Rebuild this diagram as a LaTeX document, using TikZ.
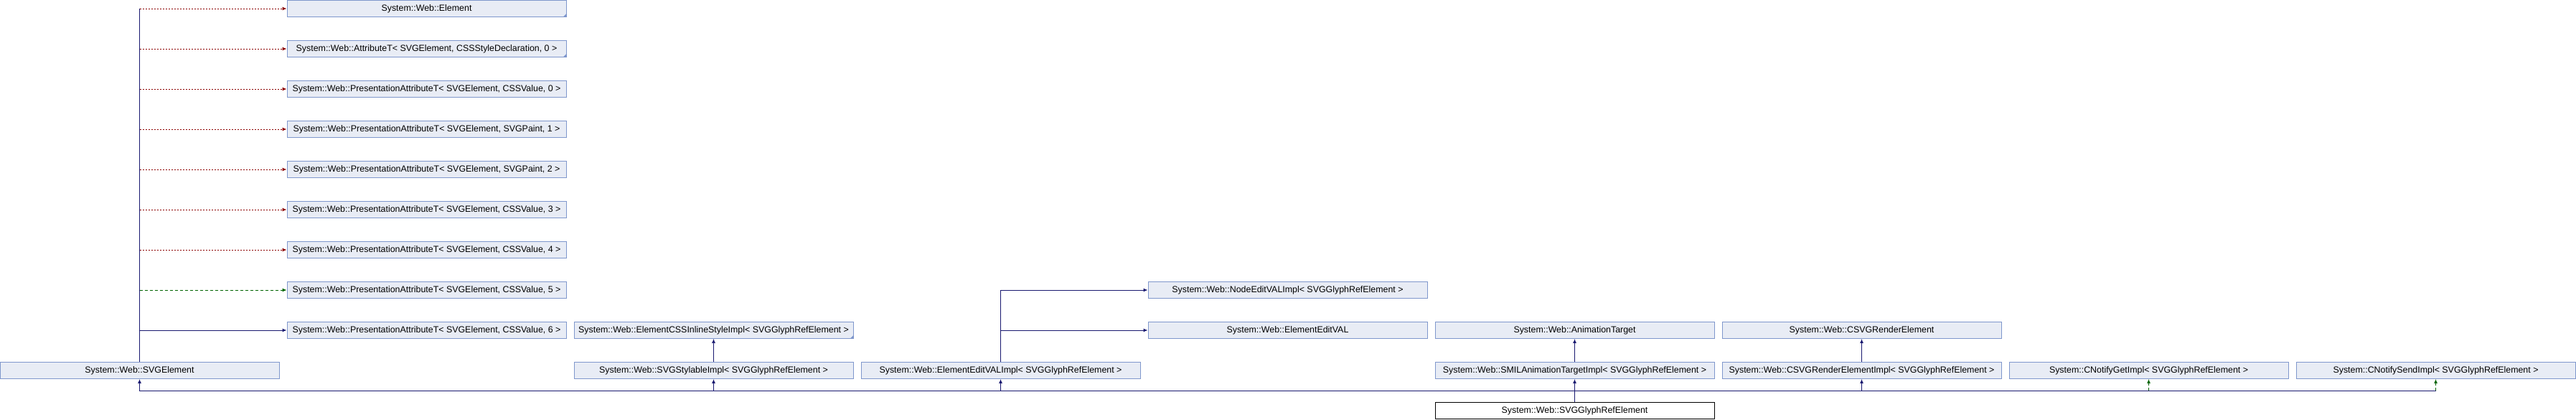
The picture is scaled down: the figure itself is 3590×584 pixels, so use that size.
\documentclass[tikz,border=0pt]{standalone}
\usepackage{fontspec}
\setmainfont{Liberation Sans}
\usetikzlibrary{arrows.meta}
\definecolor{boxfill}{HTML}{E8ECF5}
\definecolor{boxline}{HTML}{7F97CC}
\definecolor{pubcol}{HTML}{191970}
\definecolor{privcol}{HTML}{8B0000}
\definecolor{protcol}{HTML}{006400}
\begin{document}
\begin{tikzpicture}
  [
    x=1pt, y=-1pt,
    cls/.style={draw=boxline, fill=boxfill, line width=0.9pt,
      minimum width=389pt, minimum height=23pt, inner sep=0pt,
      font=\fontsize{12.4}{14}\selectfont},
    self/.style={cls, draw=black, fill=white},
    >={Latex[length=6pt,width=5pt]},
    pub/.style={pubcol, line width=1pt},
    priv/.style={privcol, line width=1pt, dash pattern=on 2pt off 2pt},
    prot/.style={protcol, line width=1pt, dash pattern=on 4pt off 3pt},
  ]
\useasboundingbox (0,0) rectangle (3590,584);

\def\dx{400}
\def\dy{56}
\def\xa{194.5}
\newcommand\trunc[1]{
  \fill[boxline] (#1.south east) -- ++(-5,0) -- ++(5,-5) -- cycle;
}

% base column
\node[cls] (svgel) at (\xa,12+9*\dy) {System::Web::SVGElement};
\node[cls] (element) at (\xa+\dx,12) {System::Web::Element};
\node[cls] (attr) at (\xa+\dx,12+\dy) {System::Web::AttributeT< SVGElement, CSSStyleDeclaration, 0 >};
\node[cls] (pa0) at (\xa+\dx,12+2*\dy) {System::Web::PresentationAttributeT< SVGElement, CSSValue, 0 >};
\node[cls] (pa1) at (\xa+\dx,12+3*\dy) {System::Web::PresentationAttributeT< SVGElement, SVGPaint, 1 >};
\node[cls] (pa2) at (\xa+\dx,12+4*\dy) {System::Web::PresentationAttributeT< SVGElement, SVGPaint, 2 >};
\node[cls] (pa3) at (\xa+\dx,12+5*\dy) {System::Web::PresentationAttributeT< SVGElement, CSSValue, 3 >};
\node[cls] (pa4) at (\xa+\dx,12+6*\dy) {System::Web::PresentationAttributeT< SVGElement, CSSValue, 4 >};
\node[cls] (pa5) at (\xa+\dx,12+7*\dy) {System::Web::PresentationAttributeT< SVGElement, CSSValue, 5 >};
\node[cls] (pa6) at (\xa+\dx,12+8*\dy) {System::Web::PresentationAttributeT< SVGElement, CSSValue, 6 >};
\trunc{element}
\trunc{attr}

% template impls
\node[cls] (inline) at (\xa+2*\dx,12+8*\dy) {System::Web::ElementCSSInlineStyleImpl< SVGGlyphRefElement >};
\node[cls] (stylable) at (\xa+2*\dx,12+9*\dy) {System::Web::SVGStylableImpl< SVGGlyphRefElement >};
\trunc{inline}
\node[cls] (editimpl) at (\xa+3*\dx,12+9*\dy) {System::Web::ElementEditVALImpl< SVGGlyphRefElement >};
\node[cls] (nodeedit) at (\xa+4*\dx,12+7*\dy) {System::Web::NodeEditVALImpl< SVGGlyphRefElement >};
\node[cls] (elemedit) at (\xa+4*\dx,12+8*\dy) {System::Web::ElementEditVAL};
\node[cls] (anim) at (\xa+5*\dx,12+8*\dy) {System::Web::AnimationTarget};
\node[cls] (smil) at (\xa+5*\dx,12+9*\dy) {System::Web::SMILAnimationTargetImpl< SVGGlyphRefElement >};
\node[cls] (render) at (\xa+6*\dx,12+8*\dy) {System::Web::CSVGRenderElement};
\node[cls] (renderimpl) at (\xa+6*\dx,12+9*\dy) {System::Web::CSVGRenderElementImpl< SVGGlyphRefElement >};
\node[cls] (getimpl) at (\xa+7*\dx,12+9*\dy) {System::CNotifyGetImpl< SVGGlyphRefElement >};
\node[cls] (sendimpl) at (\xa+8*\dx,12+9*\dy) {System::CNotifySendImpl< SVGGlyphRefElement >};
\node[self] (glyph) at (\xa+5*\dx,12+10*\dy) {System::Web::SVGGlyphRefElement};

% SVGElement bases
\draw[pub] (svgel.north) -- (svgel.north |- element.west);
\foreach \n/\s in {element/priv, attr/priv, pa0/priv, pa1/priv, pa2/priv,
                   pa3/priv, pa4/priv, pa5/prot, pa6/pub}
  \draw[\s,->] (svgel.north |- \n.west) -- (\n.west);

\draw[pub,->,line width=0.7pt] (stylable.north) -- (inline.south);
\draw[pub,->] (editimpl.north) |- (nodeedit.west);
\draw[pub,->] (editimpl.north) |- (elemedit.west);
\draw[pub,->] (smil.north) -- (anim.south);
\draw[pub,->] (renderimpl.north) -- (render.south);

% SVGGlyphRefElement bases
\path (glyph.north) ++(0,-16) coordinate (bus);
\draw[pub] (glyph.north) -- (bus);
\foreach \n in {svgel, stylable, editimpl, smil, renderimpl}
  \draw[pub,->] (bus) -| (\n.south);
\draw[pub] (bus) -- (bus -| sendimpl.south);
\foreach \n in {getimpl, sendimpl}
  \draw[prot,->] (bus -| \n.south) -- (\n.south);

\end{tikzpicture}
\end{document}
